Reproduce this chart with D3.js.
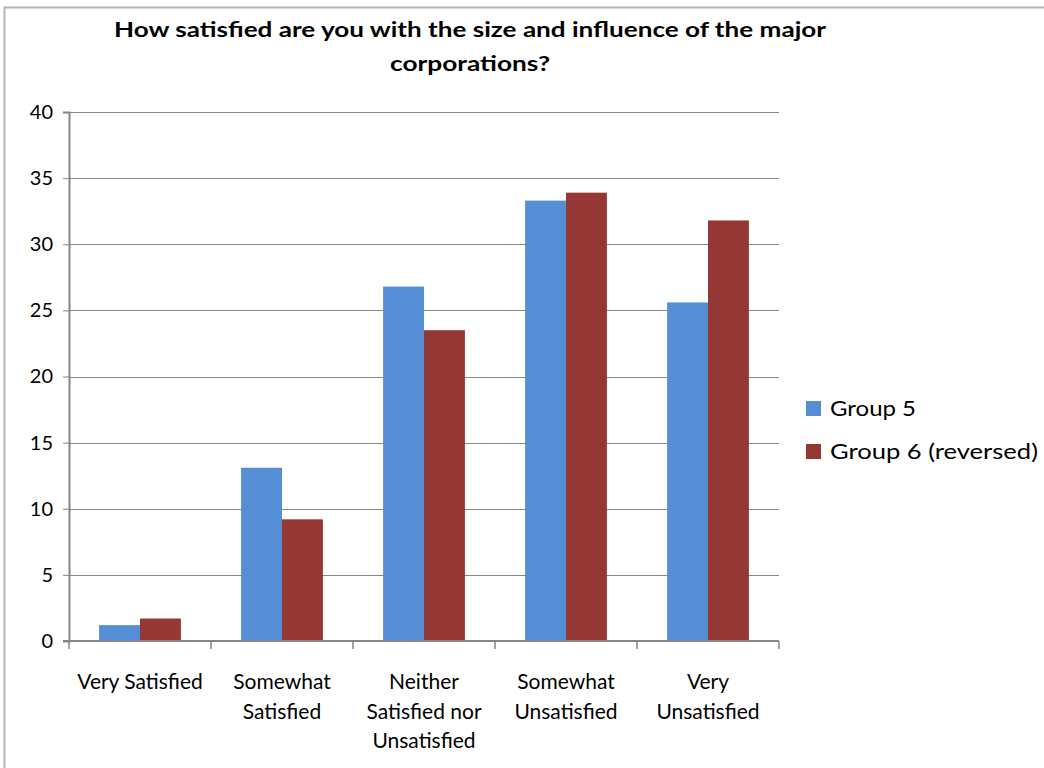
<!DOCTYPE html>
<html><head><meta charset="utf-8">
<script src="https://cdn.jsdelivr.net/npm/d3@7"></script>
<style>body{margin:0;background:#fff;} svg{display:block;}</style>
</head><body>
<svg id="chart" width="1044" height="768"></svg>
<script>
const categories = [["Very Satisfied"], ["Somewhat", "Satisfied"], ["Neither", "Satisfied nor", "Unsatisfied"], ["Somewhat", "Unsatisfied"], ["Very", "Unsatisfied"]];
const seriesNames = ["Group 5", "Group 6 (reversed)"];
const group5 = [1.2, 13.1, 26.8, 33.3, 25.6];
const group6 = [1.7, 9.2, 23.5, 33.9, 31.8];
const yTicks = [0, 5, 10, 15, 20, 25, 30, 35, 40];
const colors = ["#558ed5", "#953735"];
const titleLines = ["How satisfied are you with the size and influence of the major", "corporations?"];

const svg = d3.select("#chart");
const font = "Lato, 'Open Sans', sans-serif";

svg.append("rect").attr("x", 4.5).attr("y", 7.5).attr("width", 1100).attr("height", 800)
  .attr("fill", "none").attr("stroke", "#b4b4b4").attr("stroke-width", 2);

const m = {left: 69, right: 779, top: 112, bottom: 641};
const x = d3.scaleBand().domain(d3.range(categories.length)).range([m.left, m.right]).padding(0);
const y = d3.scaleLinear().domain([0, 40]).range([m.bottom, m.top]);
const bw = x.bandwidth();
const x1 = d3.scaleBand().domain([0, 1]).range([bw * 0.212, bw * 0.788]).padding(0);

// gridlines
svg.append("g").selectAll("line").data(yTicks.filter(d => d > 0)).join("line")
  .attr("x1", m.left).attr("x2", m.right).attr("y1", d => Math.round(y(d)) + 0.5).attr("y2", d => Math.round(y(d)) + 0.5)
  .attr("stroke", "#868686").attr("stroke-width", 1);

// bars
const data = [group5, group6];
data.forEach((vals, si) => {
  svg.append("g").selectAll("rect").data(vals).join("rect")
    .attr("x", (d, i) => x(i) + x1(si)).attr("width", x1.bandwidth())
    .attr("y", d => y(d)).attr("height", d => y(0) - y(d))
    .attr("fill", colors[si]);
});

// y axis
const yAxis = d3.axisLeft(y).tickValues(yTicks).tickSize(6).tickPadding(10);
const gy = svg.append("g").attr("transform", `translate(${m.left},0)`).call(yAxis);
gy.select(".domain").attr("stroke", "#868686").attr("stroke-width", 2);
gy.selectAll(".tick line").attr("stroke", "#868686");
gy.selectAll("text").attr("font-family", font).attr("font-size", 20).attr("fill", "#000");

// x axis
svg.append("line").attr("x1", m.left - 6).attr("x2", m.right).attr("y1", y(0)).attr("y2", y(0))
  .attr("stroke", "#868686").attr("stroke-width", 2);
const bounds = d3.range(categories.length + 1).map(i => i < categories.length ? x(i) : m.right);
svg.append("g").selectAll("line").data(bounds).join("line")
  .attr("x1", d => d).attr("x2", d => d).attr("y1", y(0)).attr("y2", y(0) + 8)
  .attr("stroke", "#868686").attr("stroke-width", 1.5);

const cl = svg.append("g");
categories.forEach((lines, i) => {
  const t = cl.append("text").attr("text-anchor", "middle").attr("font-family", font).attr("font-size", 21);
  lines.forEach((ln, j) => {
    t.append("tspan").attr("x", x(i) + bw / 2).attr("y", 689 + j * 29.5).text(ln);
  });
});

// title
const titleWidths = [712, 160];
titleLines.forEach((ln, j) => {
  svg.append("text").attr("x", 470).attr("y", 37 + j * 34).attr("text-anchor", "middle")
    .attr("font-family", font).attr("font-weight", "bold").attr("font-size", 20)
    .attr("textLength", titleWidths[j]).attr("lengthAdjust", "spacingAndGlyphs").text(ln);
});

// legend
const legendWidths = [86, 208];
seriesNames.forEach((s, i) => {
  const g = svg.append("g").attr("transform", `translate(806, ${401 + i * 43})`);
  g.append("rect").attr("width", 15).attr("height", 15).attr("fill", colors[i]);
  g.append("text").attr("x", 24).attr("y", 15).attr("font-family", font).attr("font-size", 21)
    .attr("textLength", legendWidths[i]).attr("lengthAdjust", "spacingAndGlyphs").text(s);
});
</script>
</body></html>
